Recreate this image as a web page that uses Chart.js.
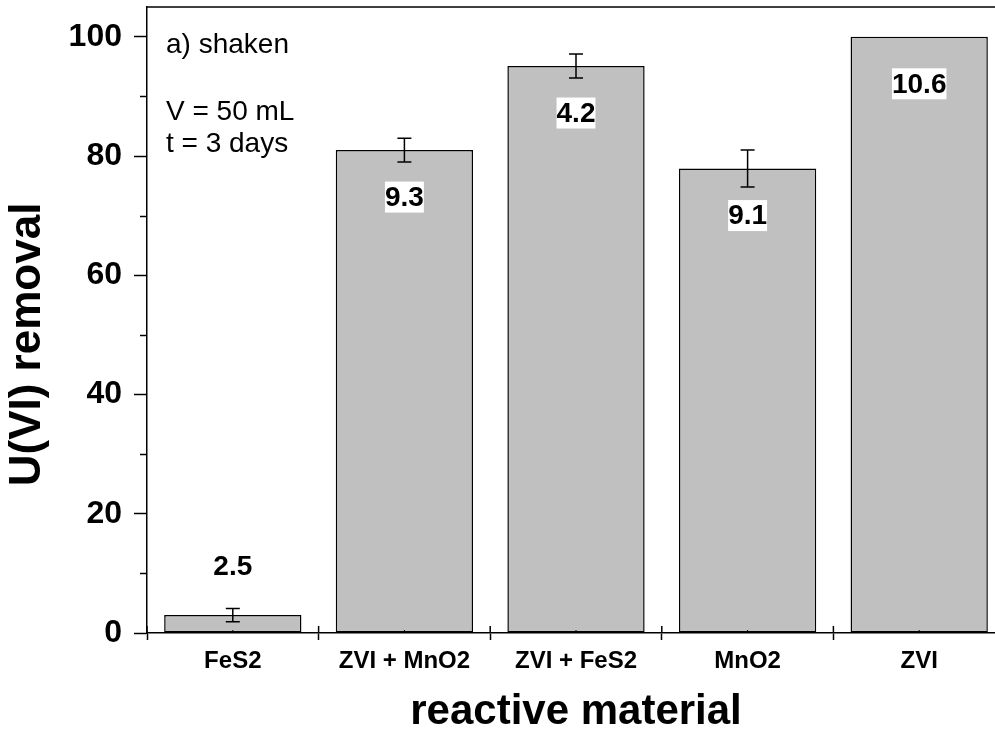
<!DOCTYPE html>
<html>
<head>
<meta charset="utf-8">
<script src="https://cdn.jsdelivr.net/npm/chart.js@4.4.1/dist/chart.umd.min.js"></script>
<style>
  html, body { margin: 0; padding: 0; background: #fff; overflow: hidden; }
  #wrap { width: 1010px; height: 733px; }
</style>
</head>
<body>
<div id="wrap"><canvas id="c" width="1010" height="733"></canvas></div>
<script>
// ---- data ----
const categories = ['FeS2', 'ZVI + MnO2', 'ZVI + FeS2', 'MnO2', 'ZVI'];
const removal = [3.0, 81.0, 95.1, 77.9, 100];
const errors = [1.1, 2.0, 2.0, 3.1, 0];
const rateLabels = ['2.5', '9.3', '4.2', '9.1', '10.6'];
const yTicks = [0, 20, 40, 60, 80, 100];
const yMinorTicks = [10, 30, 50, 70, 90];
const notes = ['a) shaken', 'V = 50 mL', 't = 3 days'];

const FONT = '"Liberation Sans", Arial, sans-serif';

const deco = {
  id: 'deco',
  afterDraw(chart) {
    const { ctx, chartArea: ca, scales: { x, y } } = chart;
    const meta = chart.getDatasetMeta(0);
    ctx.save();
    ctx.strokeStyle = '#000';
    ctx.lineWidth = 1.5;
    // top frame line
    ctx.beginPath();
    ctx.moveTo(ca.left, ca.top);
    ctx.lineTo(ca.right, ca.top);
    ctx.stroke();
    // minor y ticks (outward)
    yMinorTicks.forEach(v => {
      const py = Math.round(y.getPixelForValue(v)) + 0.5;
      ctx.beginPath();
      ctx.moveTo(ca.left - 7, py);
      ctx.lineTo(ca.left, py);
      ctx.stroke();
    });
    // x boundary ticks (inward part) and small centre ticks
    for (let i = 0; i <= categories.length; i++) {
      const px = x.getPixelForValue(i - 0.5);
      ctx.beginPath();
      ctx.moveTo(px, ca.bottom);
      ctx.lineTo(px, ca.bottom - 7);
      ctx.stroke();
    }
    ctx.lineWidth = 1;
    for (let i = 0; i < categories.length; i++) {
      const px = x.getPixelForValue(i);
      ctx.beginPath();
      ctx.moveTo(px, ca.bottom);
      ctx.lineTo(px, ca.bottom - 3);
      ctx.stroke();
    }
    // error bars
    ctx.lineWidth = 1.5;
    meta.data.forEach((bar, i) => {
      const e = errors[i];
      if (!e) return;
      const v = removal[i];
      const yt = y.getPixelForValue(v + e), yb = y.getPixelForValue(v - e);
      ctx.beginPath();
      ctx.moveTo(bar.x, yt); ctx.lineTo(bar.x, yb);
      ctx.moveTo(bar.x - 7, yt); ctx.lineTo(bar.x + 7, yt);
      ctx.moveTo(bar.x - 7, yb); ctx.lineTo(bar.x + 7, yb);
      ctx.stroke();
    });
    // value labels
    ctx.font = 'bold 28px ' + FONT;
    ctx.textAlign = 'center';
    ctx.textBaseline = 'middle';
    meta.data.forEach((bar, i) => {
      const txt = rateLabels[i];
      const h = bar.base - bar.y;
      let cy;
      if (h > 80) {
        cy = bar.y + 47;
        const w = ctx.measureText(txt).width;
        ctx.fillStyle = '#fff';
        ctx.fillRect(bar.x - w / 2, cy - 15.5, w, 31);
      } else {
        cy = bar.y - 49;
      }
      ctx.fillStyle = '#000';
      ctx.fillText(txt, bar.x, cy + 1);
    });
    // notes
    ctx.font = '28px ' + FONT;
    ctx.textAlign = 'left';
    ctx.textBaseline = 'alphabetic';
    const offs = [46, 113, 145];
    notes.forEach((t, i) => ctx.fillText(t, ca.left + 19, ca.top + offs[i]));
    ctx.restore();
  }
};

new Chart(document.getElementById('c'), {
  type: 'bar',
  data: {
    labels: categories,
    datasets: [{
      data: removal,
      backgroundColor: '#c0c0c0',
      borderColor: '#000',
      borderWidth: 1.5,
      borderSkipped: false,
      barPercentage: 0.8,
      categoryPercentage: 1.0
    }]
  },
  options: {
    responsive: false,
    devicePixelRatio: 1,
    animation: false,
    layout: { padding: { left: 0, top: 7, right: 5, bottom: 0 } },
    plugins: { legend: { display: false }, tooltip: { enabled: false } },
    scales: {
      x: {
        offset: true,
        grid: { display: true, offset: true, drawOnChartArea: false, drawTicks: true, tickLength: 7, tickColor: '#000', tickWidth: 1.5 },
        border: { display: true, color: '#000', width: 1.5 },
        ticks: { color: '#000', padding: 7, font: { family: FONT, size: 24, weight: 'bold' }, maxRotation: 0 },
        title: { display: true, text: 'reactive material', color: '#000', font: { family: FONT, size: 42, weight: 'bold', lineHeight: 1 }, padding: { top: 0, bottom: 0 } },
        afterFit(s) { s.height = 100; s.paddingLeft = 0; s.paddingRight = 0; }
      },
      y: {
        min: 0,
        max: 105,
        afterBuildTicks(s) { s.ticks = yTicks.map(v => ({ value: v })); },
        grid: { display: true, drawOnChartArea: false, drawTicks: true, tickLength: 13, tickColor: '#000', tickWidth: 1.5 },
        border: { display: true, color: '#000', width: 1.5 },
        ticks: { color: '#000', padding: 12, font: { family: FONT, size: 32, weight: 'bold' } },
        title: { display: true, text: 'U(VI) removal    ', color: '#000', font: { family: FONT, size: 44, weight: 'bold', lineHeight: 1.1 }, padding: { top: 4, bottom: 0 } },
        afterFit(s) { s.width = 147; s.paddingTop = 0; s.paddingBottom = 0; }
      }
    }
  },
  plugins: [deco]
});
</script>
</body>
</html>
